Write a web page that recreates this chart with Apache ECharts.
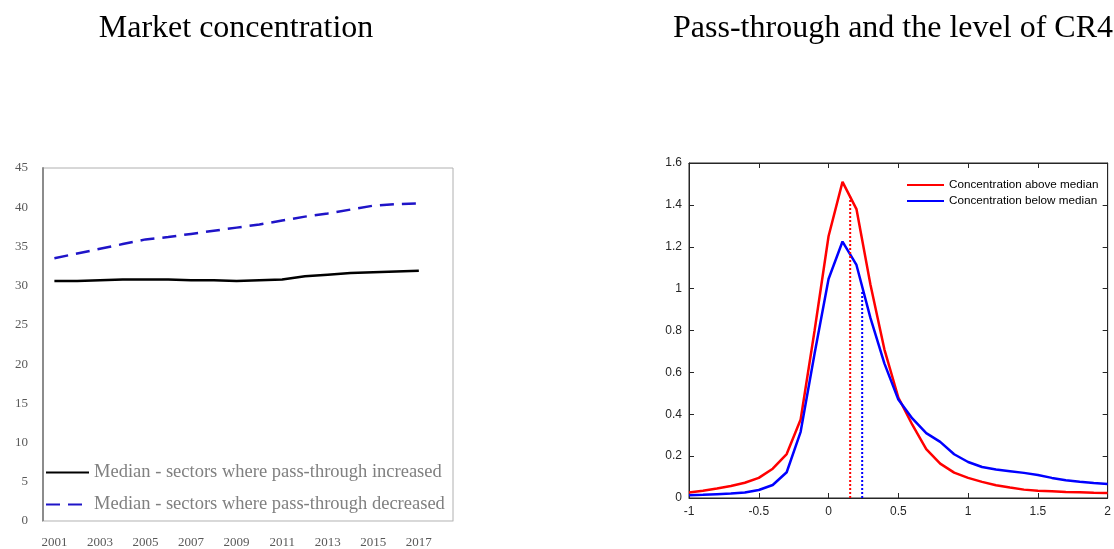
<!DOCTYPE html>
<html lang="en">
<head>
    <meta charset="UTF-8">
    <title>Market concentration and pass-through</title>
    <script src="https://cdn.jsdelivr.net/npm/echarts@6.0.0/dist/echarts.min.js"></script>
    <style>
        html, body { margin: 0; padding: 0; background: #fff; }
        #main { width: 1114px; height: 549px; }
    </style>
</head>
<body>
    <div id="main"></div>
    <script type="text/javascript">
        // left panel: median CR4 by year
        const years = ['2001', '2002', '2003', '2004', '2005', '2006', '2007', '2008', '2009',
            '2010', '2011', '2012', '2013', '2014', '2015', '2016', '2017', '2018'];
        const medianIncreased = [30.6, 30.6, 30.7, 30.8, 30.8, 30.8, 30.7, 30.7, 30.6,
            30.7, 30.8, 31.2, 31.4, 31.6, 31.7, 31.8, 31.9, null];
        const medianDecreased = [33.5, 34.1, 34.7, 35.3, 35.9, 36.2, 36.6, 37.0, 37.4,
            37.8, 38.3, 38.8, 39.2, 39.7, 40.2, 40.4, 40.5, null];

        // right panel: pass-through densities
        const ptGrid = [-1, -0.9, -0.8, -0.7, -0.6, -0.5, -0.4, -0.3, -0.2, -0.1, 0,
            0.1, 0.2, 0.3, 0.4, 0.5, 0.6, 0.7, 0.8, 0.9, 1, 1.1, 1.2, 1.3, 1.4, 1.5,
            1.6, 1.7, 1.8, 1.9, 2];
        const densityAbove = [0.026, 0.035, 0.045, 0.057, 0.073, 0.096, 0.14, 0.21, 0.375, 0.80, 1.25,
            1.51, 1.38, 1.02, 0.71, 0.48, 0.35, 0.233, 0.164, 0.121, 0.096, 0.077, 0.061, 0.05, 0.04, 0.035,
            0.032, 0.029, 0.027, 0.025, 0.024];
        const densityBelow = [0.013, 0.015, 0.018, 0.021, 0.026, 0.038, 0.062, 0.123, 0.316, 0.69, 1.046,
            1.225, 1.113, 0.86, 0.643, 0.47, 0.38, 0.31, 0.268, 0.209, 0.172, 0.148, 0.136, 0.128, 0.12, 0.11,
            0.096, 0.085, 0.078, 0.072, 0.067];
        const medianAbove = [0.155, 1.44];
        const medianBelow = [0.241, 0.99];

        const serif = "'Liberation Serif', 'DejaVu Serif', serif";
        const sans = "'Liberation Sans', Arial, sans-serif";
        const nameUp = 'Median - sectors where pass-through increased';
        const nameDown = 'Median - sectors where pass-through decreased';
        const nameAbove = 'Concentration above median';
        const nameBelow = 'Concentration below median';
        const boxTick = { inside: true, length: 5, lineStyle: { color: '#262626' } };
        const boxLine = { show: true, onZero: false, lineStyle: { color: '#262626' } };

        const chart = echarts.init(document.getElementById('main'));
        const option = {
            animation: false,
            title: [
                { text: 'Market concentration', left: 231, top: 8, textAlign: 'center',
                  textStyle: { fontFamily: serif, fontWeight: 'normal', fontSize: 32, color: '#000' } },
                { text: 'Pass-through and the level of CR4', left: 888, top: 8, textAlign: 'center',
                  textStyle: { fontFamily: serif, fontWeight: 'normal', fontSize: 32, color: '#000' } }
            ],
            legend: [
                { data: [nameUp, nameDown], left: 40, top: 458, orient: 'vertical',
                  itemWidth: 43, itemHeight: 12, itemGap: 13,
                  itemStyle: { opacity: 0 },
                  textStyle: { fontFamily: serif, fontSize: 18.5, color: '#808080' } },
                { data: [nameAbove, nameBelow], left: 901, top: 174, orient: 'vertical',
                  itemWidth: 37, itemHeight: 10, itemGap: 4,
                  itemStyle: { opacity: 0 },
                  textStyle: { fontFamily: sans, fontSize: 11.7, color: '#000' } }
            ],
            grid: [
                { left: 43, top: 168, width: 410, height: 354, show: true,
                  borderColor: '#b0b0b0', borderWidth: 1 },
                { left: 689, top: 163, width: 423, height: 335, show: true,
                  borderColor: '#262626', borderWidth: 1 }
            ],
            xAxis: [
                { type: 'category', gridIndex: 0, data: years, boundaryGap: true,
                  axisLine: { onZero: false, lineStyle: { color: '#d9d9d9', width: 1 } },
                  axisTick: { show: false },
                  axisLabel: { interval: 1, margin: 15, fontFamily: serif, fontSize: 13, color: '#595959' } },
                { type: 'value', gridIndex: 1, min: -1, max: 2, interval: 0.5,
                  splitLine: { show: false }, axisLine: boxLine, axisTick: boxTick,
                  axisLabel: { fontFamily: sans, fontSize: 12, color: '#262626', margin: 8 } },
                { type: 'value', gridIndex: 1, position: 'top', min: -1, max: 2, interval: 0.5,
                  splitLine: { show: false }, axisLabel: { show: false },
                  axisLine: boxLine, axisTick: boxTick }
            ],
            yAxis: [
                { type: 'value', gridIndex: 0, min: 0, max: 45, interval: 5,
                  splitLine: { show: false },
                  axisLine: { show: true, onZero: false, lineStyle: { color: '#8c8c8c', width: 2 } },
                  axisTick: { show: false },
                  axisLabel: { margin: 15, fontFamily: serif, fontSize: 13, color: '#595959' } },
                { type: 'value', gridIndex: 1, min: 0, max: 1.6, interval: 0.2,
                  splitLine: { show: false }, axisLine: boxLine, axisTick: boxTick,
                  axisLabel: { fontFamily: sans, fontSize: 12, color: '#262626', margin: 7 } },
                { type: 'value', gridIndex: 1, position: 'right', min: 0, max: 1.6, interval: 0.2,
                  splitLine: { show: false }, axisLabel: { show: false },
                  axisLine: boxLine, axisTick: boxTick }
            ],
            series: [
                { name: nameUp, type: 'line', xAxisIndex: 0, yAxisIndex: 0, data: medianIncreased,
                  symbol: 'none', lineStyle: { color: '#000', width: 2.5 }, itemStyle: { color: '#000' } },
                { name: nameDown, type: 'line', xAxisIndex: 0, yAxisIndex: 0, data: medianDecreased,
                  symbol: 'none', lineStyle: { color: '#1f14c8', width: 2.5, type: [14, 8] },
                  itemStyle: { color: '#1f14c8' } },
                { name: nameAbove, type: 'line', xAxisIndex: 1, yAxisIndex: 1,
                  data: ptGrid.map((x, i) => [x, densityAbove[i]]),
                  symbol: 'none', lineStyle: { color: '#ff0000', width: 2.5 }, itemStyle: { color: '#ff0000' } },
                { name: nameBelow, type: 'line', xAxisIndex: 1, yAxisIndex: 1,
                  data: ptGrid.map((x, i) => [x, densityBelow[i]]),
                  symbol: 'none', lineStyle: { color: '#0000ff', width: 2.5 }, itemStyle: { color: '#0000ff' } },
                { name: 'medianAbove', type: 'line', xAxisIndex: 1, yAxisIndex: 1,
                  data: [[medianAbove[0], 0], [medianAbove[0], medianAbove[1]]],
                  symbol: 'none', lineStyle: { color: '#ff0000', width: 2, type: 'dotted' } },
                { name: 'medianBelow', type: 'line', xAxisIndex: 1, yAxisIndex: 1,
                  data: [[medianBelow[0], 0], [medianBelow[0], medianBelow[1]]],
                  symbol: 'none', lineStyle: { color: '#0000ff', width: 2, type: 'dotted' } }
            ]
        };
        chart.setOption(option);
    </script>
</body>
</html>
